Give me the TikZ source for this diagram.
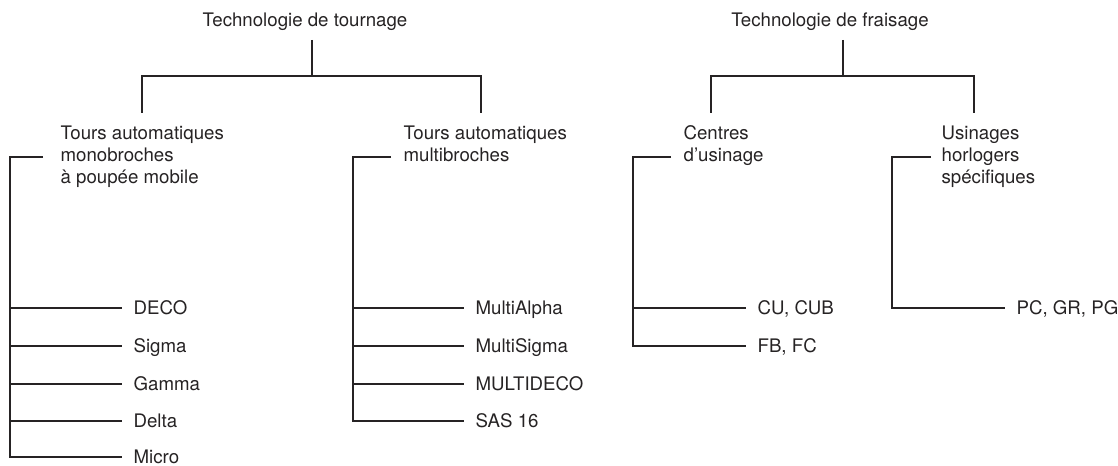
\documentclass[tikz,border=0pt]{standalone}
\usepackage{fontspec}
\setmainfont{TeX Gyre Heros}
\usepackage{tikz}
\usetikzlibrary{positioning}
\usetikzlibrary{calc}
\definecolor{ink}{RGB}{38,35,36}

\begin{document}
\begin{tikzpicture}[x=0.75pt,y=0.75pt,yscale=-1,xscale=1,
  line width=0.95pt, color=ink,
  every node/.style={font=\fontsize{14pt}{16.5pt}\selectfont, inner sep=0pt},
  title/.style={anchor=base},
  head/.style={anchor=base west, align=left},
  item/.style={anchor=west, inner xsep=8.25pt, text height=10pt, text depth=0pt}]
%set diagram to 1118 x 466
\useasboundingbox (0,0) rectangle (1118,466);

% Text Node
\node[title] (tour) at (305,27) {Technologie de tournage};
% Text Node
\node[title] (frai) at (830,27) {Technologie de fraisage};

% Text Node (base = last line)
\node[head] (mono) at (60,184) {Tours automatiques\\monobroches\\à poupée mobile};
% Text Node
\node[head] (multi) at (403,162) {Tours automatiques\\multibroches};
% Text Node
\node[head] (centres) at (683,162) {Centres\\d’usinage};
% Text Node
\node[head] (horlo) at (941,184) {Usinages\\horlogers\\spécifiques};

% Text Node
\node[item] (deco) at (122,308) {DECO};
\node[item] (sigma) at (122,346) {Sigma};
\node[item] (gamma) at (122,384) {Gamma};
\node[item] (delta) at (122,421) {Delta};
\node[item] (micro) at (122,457) {Micro};
% Text Node
\node[item] (malpha) at (464,308) {MultiAlpha};
\node[item] (msigma) at (464,346) {MultiSigma};
\node[item] (mdeco) at (464,384) {MULTIDECO};
\node[item] (sas) at (464,421) {SAS 16};
% Text Node
\node[item] (cu) at (746,308) {CU, CUB};
\node[item] (fb) at (746,346) {FB, FC};
% Text Node
\node[item] (pc) at (1005,308) {PC, GR, PG};

% junctions
\coordinate (s1) at (312,40);
\coordinate (j1) at (312,76);
\coordinate (d1) at (142,113);
\coordinate (d2) at (481,113);
\coordinate (s2) at (843,40);
\coordinate (j2) at (843,76);
\coordinate (d3) at (711,113);
\coordinate (d4) at (974,113);
\coordinate (b1) at (10,157);
\coordinate (e1) at (43,157);
\coordinate (b2) at (353,157);
\coordinate (e2) at (391,157);
\coordinate (b3) at (633,157);
\coordinate (e3) at (671,157);
\coordinate (b4) at (892,157);
\coordinate (e4) at (931,157);

%Straight Lines
\draw (s1) -- (j1);
\draw (d1) |- (j1) -| (d2);
%Straight Lines
\draw (s2) -- (j2);
\draw (d3) |- (j2) -| (d4);

%Straight Lines
\draw (e1) -- (b1) |- (micro.west);
\draw (b1 |- deco.west) -- (deco.west);
\draw (b1 |- sigma.west) -- (sigma.west);
\draw (b1 |- gamma.west) -- (gamma.west);
\draw (b1 |- delta.west) -- (delta.west);
%Straight Lines
\draw (e2) -- (b2) |- (sas.west);
\draw (b2 |- malpha.west) -- (malpha.west);
\draw (b2 |- msigma.west) -- (msigma.west);
\draw (b2 |- mdeco.west) -- (mdeco.west);
%Straight Lines
\draw (e3) -- (b3) |- (fb.west);
\draw (b3 |- cu.west) -- (cu.west);
%Straight Lines
\draw (e4) -- (b4) |- (pc.west);

\end{tikzpicture}
\end{document}
